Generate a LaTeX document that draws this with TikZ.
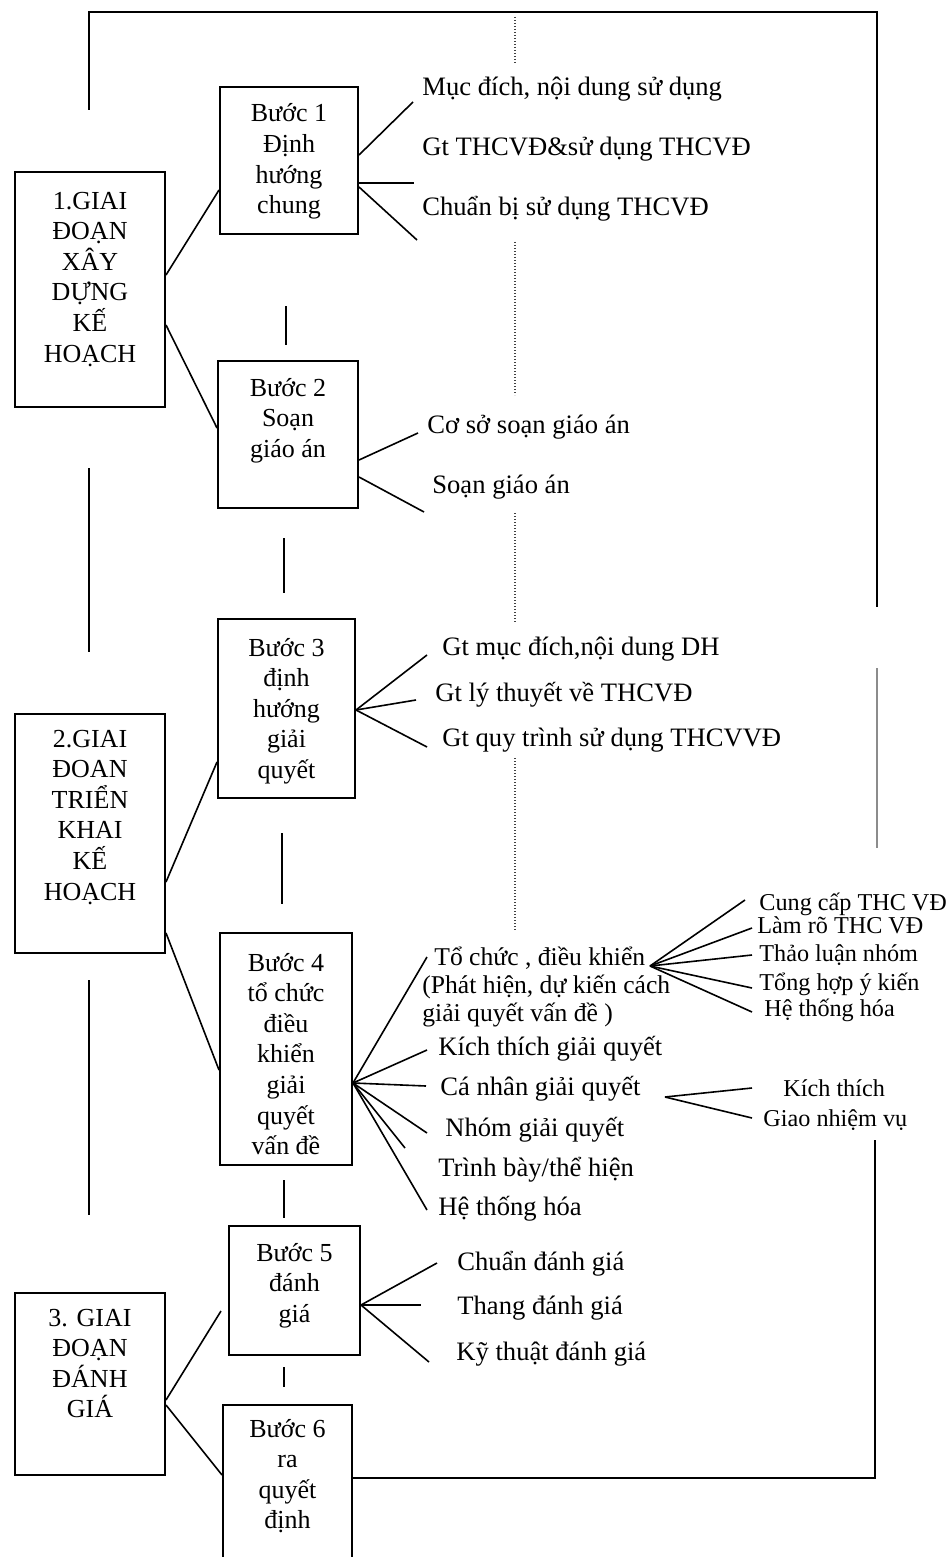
\documentclass[tikz,border=0pt]{standalone}
\usepackage{fontspec}
\setmainfont{Liberation Serif}
% fixed-size box contents: width, height, first baseline, lines
\newcommand{\boxtext}[4]{\parbox[c][#2][t]{#1}{\centering\rule{0pt}{#3}#4}}
\begin{document}
\begin{tikzpicture}[x=0.5pt,y=-0.5pt,
  every node/.style={font=\fontsize{13}{15.3}\selectfont},
  stagebox/.style={draw, line width=1pt, inner sep=0pt, anchor=north west},
  item/.style={anchor=base west, inner sep=0pt, font=\fontsize{13.3}{15}\selectfont},
  note/.style={item, font=\fontsize{12.8}{14}\selectfont},
  subitem/.style={anchor=base west, inner sep=0pt, font=\fontsize{12.1}{14}\selectfont},
  link/.style={line width=0.8pt},
  frame/.style={line width=1pt},
  trail/.style={line width=0.7pt, dash pattern=on 0.6pt off 0.9pt, black!75}
]
\useasboundingbox (0,0) rectangle (946,1557);
\clip (0,0) rectangle (946,1557);

% ---------- phases ----------
\node[stagebox] (g1) at (14,171) {\boxtext{75pt}{117.5pt}{18.5pt}{1.GIAI\\ĐOẠN\\XÂY\\DỰNG\\KẾ\\HOẠCH}};
\node[stagebox] (g2) at (14,713) {\boxtext{75pt}{119.5pt}{16.5pt}{2.GIAI\\ĐOAN\\TRIỂN\\KHAI\\KẾ\\HOẠCH}};
\node[stagebox] (g3) at (14,1292) {\boxtext{75pt}{91pt}{16.5pt}{3. GIAI\\ĐOẠN\\ĐÁNH\\GIÁ}};

% ---------- steps ----------
\node[stagebox] (s1) at (219,86) {\boxtext{69pt}{73.5pt}{17.5pt}{Bước 1\\Định\\hướng\\chung}};
\node[stagebox] (s2) at (217,360) {\boxtext{70pt}{73.5pt}{17.5pt}{Bước 2\\Soạn\\giáo án}};
\node[stagebox] (s3) at (217,618) {\boxtext{68.5pt}{89.5pt}{18.5pt}{Bước 3\\định\\hướng\\giải\\quyết}};
\node[stagebox] (s4) at (219,932) {\boxtext{66pt}{116pt}{19pt}{Bước 4\\tổ chức\\điều\\khiển\\giải\\quyết\\vấn đề}};
\node[stagebox] (s5) at (228,1225) {\boxtext{65.5pt}{64.5pt}{17.5pt}{Bước 5\\đánh\\giá}};
\node[stagebox] (s6) at (222,1404) {\boxtext{64.5pt}{100pt}{16pt}{Bước 6\\ra\\quyết\\định}};

% ---------- items ----------
\node[item] (a1) at (422,96)  {Mục đích, nội dung sử dụng};
\node[item] (a2) at (422,156) {Gt THCVĐ\&sử dụng THCVĐ};
\node[item] (a3) at (422,216) {Chuẩn bị sử dụng THCVĐ};

\node[item] (b1) at (427,433) {Cơ sở soạn giáo án};
\node[item] (b2) at (432,493) {Soạn giáo án};

\node[item] (c1) at (442,655) {Gt mục đích,nội dung DH};
\node[item] (c2) at (435,701) {Gt lý thuyết về THCVĐ};
\node[item] (c3) at (442,746) {Gt quy trình sử dụng THCVVĐ};

\node[note] (d1) at (434,965) {Tổ chức , điều khiển};
\node[note] (d1b) at (422,993) {(Phát hiện, dự kiến cách};
\node[note] (d1c) at (422,1021) {giải quyết vấn đề )};
\node[item] (d2) at (438,1055) {Kích thích giải quyết};
\node[item] (d3) at (440,1095) {Cá nhân giải quyết};
\node[item] (d4) at (445,1136) {Nhóm giải quyết};
\node[item] (d5) at (438,1176) {Trình bày/thể hiện};
\node[item] (d6) at (438,1215) {Hệ thống hóa};

\node[subitem] (e1) at (759,910)  {Cung cấp THC VĐ};
\node[subitem] (e2) at (757,933)  {Làm rõ THC VĐ};
\node[subitem] (e3) at (759,961)  {Thảo luận nhóm};
\node[subitem] (e4) at (759,990)  {Tổng hợp ý kiến};
\node[subitem] (e5) at (764,1016) {Hệ thống hóa};

\node[subitem] (f1) at (783,1096) {Kích thích};
\node[subitem] (f2) at (763,1126) {Giao nhiệm vụ};

\node[item] (h1) at (457,1270) {Chuẩn đánh giá};
\node[item] (h2) at (457,1314) {Thang đánh giá};
\node[item] (h3) at (456,1360) {Kỹ thuật đánh giá};

% ---------- phase to step links ----------
\draw[link] (g1.east |- 0,275) -- (s1.west |- 0,190);
\draw[link] (g1.east |- 0,325) -- (s2.west |- 0,428);
\draw[link] (g2.east |- 0,882) -- (s3.west |- 0,762);
\draw[link] (g2.east |- 0,933) -- (s4.west |- 0,1070);
\coordinate (s5in) at (221,1311);
\draw[link] (g3.east |- 0,1400) -- (s5in);
\draw[link] (g3.east |- 0,1405) -- (s6.west |- 0,1475);

% ---------- step branches ----------
\coordinate (a1t) at (413,102);
\coordinate (a2t) at (414,183);
\coordinate (a3t) at (417,240);
\draw[link] (s1.east |- 0,155) -- (a1t);
\draw[link] (s1.east |- 0,183) -- (a2t);
\draw[link] (s1.east |- 0,187) -- (a3t);

\coordinate (b1t) at (418,433);
\coordinate (b2t) at (424,512);
\draw[link] (s2.east |- 0,460) -- (b1t);
\draw[link] (s2.east |- 0,477) -- (b2t);

\coordinate (c1t) at (427,655);
\coordinate (c2t) at (416,700);
\coordinate (c3t) at (427,747);
\foreach \t in {c1t,c2t,c3t} \draw[link] (s3.east |- 0,710) -- (\t);

\coordinate (d1t) at (427,957);
\coordinate (d2t) at (427,1050);
\coordinate (d3t) at (426,1086);
\coordinate (d4t) at (427,1133);
\coordinate (d5t) at (405,1148);
\coordinate (d6t) at (427,1210);
\foreach \t in {d1t,d2t,d3t,d4t,d5t,d6t} \draw[link] (s4.east |- 0,1083) -- (\t);

\coordinate (eo) at (650,966);
\coordinate (e1t) at (745,900);
\coordinate (e2t) at (752,928);
\coordinate (e3t) at (752,955);
\coordinate (e4t) at (752,988);
\coordinate (e5t) at (752,1012);
\foreach \t in {e1t,e2t,e3t,e4t,e5t} \draw[link] (eo) -- (\t);

\coordinate (fo) at (665,1097);
\coordinate (f1t) at (752,1088);
\coordinate (f2t) at (752,1118);
\draw[link] (fo) -- (f1t);
\draw[link] (fo) -- (f2t);

\coordinate (h1t) at (437,1263);
\coordinate (h2t) at (421,1305);
\coordinate (h3t) at (429,1362);
\foreach \t in {h1t,h2t,h3t} \draw[link] (s5.east |- 0,1305) -- (\t);

% ---------- short ticks between steps and phases ----------
\draw[link] (286,306) -- (286,345);
\draw[link] (284,538) -- (284,593);
\draw[link] (282,833) -- (282,904);
\draw[link] (284,1180) -- (284,1218);
\draw[link] (284,1367) -- (284,1387);
\draw[link] (89,468) -- (89,652);
\draw[link] (89,980) -- (89,1215);

% ---------- outer feedback frame ----------
\draw[frame] (89,110) -- (89,12) -- (877,12) -- (877,607);
\draw[frame, black!45] (877,668) -- (877,848);
\draw[frame] (s6.east |- 0,1478) -- (875,1478) -- (875,1140);

% ---------- dotted guide ----------
\draw[trail] (515,17) -- (515,63);
\draw[trail] (515,242) -- (515,395);
\draw[trail] (515,513) -- (515,622);
\draw[trail] (515,758) -- (515,930);
\end{tikzpicture}
\end{document}
